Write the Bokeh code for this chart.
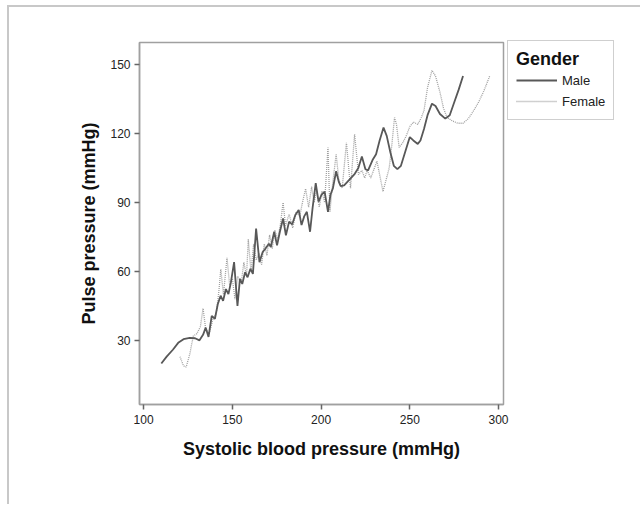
from bokeh.plotting import figure
from bokeh.models import Legend, LegendItem, FixedTicker, ColumnDataSource, Range1d
from bokeh.embed import file_html
from bokeh.resources import INLINE

# Male smoothed curve (systolic BP vs pulse pressure)
male_sbp = [110, 113, 116.5, 119.5, 122.5, 126, 129, 131.5, 133.5, 135, 136.6, 138.4, 140.2,
            141.8, 143.4, 144.8, 146.4, 147.8, 149.2, 151, 152.9, 154.3, 155.6, 157.2, 158.6,
            160.2, 161.6, 163.4, 165.3, 167.1, 168.7, 170.6, 171.7, 173.6, 175.2, 176.8, 178.6,
            180.2, 182, 183.7, 185.5, 187.4, 189, 190.5, 192, 193.8, 195.2, 197, 198.6, 200.3,
            202, 203.9, 205.3, 206.7, 208.5, 210, 211, 213, 216, 219, 221, 223, 225, 226.5,
            229, 231, 233, 235.2, 237, 239, 241, 243, 245, 247, 250, 252, 254.5, 256, 258,
            260, 262.5, 264.5, 267, 270, 272.5, 275, 277.5, 280]
male_pp = [20, 23, 26, 29, 30.6, 31.2, 31, 30.1, 32.5, 35.6, 31.6, 40.7, 39.5,
           45.8, 49.5, 47.3, 52.4, 50.2, 55.3, 64.1, 45.1, 56.8, 54.6, 59.7, 57.5,
           61.2, 59, 78.7, 64.1, 68.5, 70, 72.1, 70.7, 77.3, 71.4, 77.3, 83.1,
           75.8, 81.7, 80.5, 84.6, 86.8, 80.2, 84, 86, 77.3, 87.5, 98.5, 90.4, 93.5,
           94.8, 86, 93.4, 96.3, 103.6, 99, 97.2, 97.5, 100, 102.5, 105, 110, 104.5, 104,
           108.5, 111, 117, 122.6, 119, 112, 106, 104.5, 106, 111, 118.5, 117, 115.5, 117, 122,
           128, 133, 132, 128.5, 126.5, 128, 133.5, 139, 145]

# Female smoothed curve
female_sbp = [120.5, 122.5, 124, 126, 128, 130, 132, 133.5, 135, 137, 139, 141, 142.5, 143.5,
              145, 147, 148.5, 150, 151.5, 153, 155, 156.5, 158, 159, 160.5, 162, 163.5, 165,
              166.5, 168, 169.5, 171, 172.5, 174, 175.5, 177, 178.6, 180, 182, 184, 186, 188,
              189.5, 191.3, 193, 194.7, 196, 197.5, 199, 200.5, 202, 203.9, 205, 206.5, 208.5,
              210, 211.9, 214.3, 216.6, 218.9, 221.1, 223, 224.6, 226, 228, 231.5, 234.9,
              238.4, 240, 241.4, 242.5, 244, 246, 248, 250, 252, 254.5, 256.5, 258, 260, 262.5,
              264.5, 267, 269, 271, 274, 277, 280, 283, 286, 289, 292, 295]
female_pp = [23, 19, 18.5, 24, 32, 33, 36, 44, 35, 33, 39, 42, 52, 61,
             50, 66, 54, 57, 48, 58, 55, 64, 58, 74, 60, 72, 65, 68,
             63, 72, 67, 76, 70, 78, 74, 80, 90, 80, 85, 79, 86, 84,
             90, 96, 88, 97, 90, 95, 88, 95, 90, 113.9, 86, 98, 111,
             100, 96.3, 116, 96.3, 119.7, 102.2, 104, 100.7, 104, 100.7, 108, 94.8,
             105, 116, 127, 124, 114, 116, 119, 123, 125, 124, 127, 130, 140, 147.5,
             145, 138, 131, 127, 125.5, 124.5, 124.5, 126.5, 130, 134, 139, 145]

x_ticks = [100, 150, 200, 250, 300]
y_ticks = [30, 60, 90, 120, 150]

FONT = "Liberation Sans"
FRAME = "#a0a0a0"

p = figure(frame_width=364, frame_height=362, output_backend="svg", toolbar_location=None,
           x_range=Range1d(97.7, 302.8), y_range=Range1d(2.2, 159.6),
           min_border_left=130, min_border_right=128, min_border_top=35, min_border_bottom=100,
           margin=(5, 0, 0, 7),
           styles={"border-left": "2px solid #c8c8c8", "border-top": "2px solid #c8c8c8"})
p.grid.visible = False
p.background_fill_color = "white"
p.border_fill_color = "white"
p.outline_line_color = FRAME
p.outline_line_width = 1.5

src_m = ColumnDataSource(dict(x=male_sbp, y=male_pp))
src_f = ColumnDataSource(dict(x=female_sbp, y=female_pp))
r_f = p.line("x", "y", source=src_f, line_color="#a0a0a0", line_width=1.3, line_dash="1 1")
r_m = p.line("x", "y", source=src_m, line_color="#585858", line_width=1.8)

for ax in (p.xaxis[0], p.yaxis[0]):
    ax.axis_line_color = FRAME
    ax.axis_line_width = 1.5
    ax.major_tick_line_color = "#666666"
    ax.major_tick_line_width = 1.5
    ax.major_tick_out = 5
    ax.major_tick_in = 0
    ax.minor_tick_line_color = None
    ax.major_label_text_font = FONT
    ax.major_label_text_font_size = "12px"
    ax.major_label_text_color = "#222222"
    ax.axis_label_text_font = FONT
    ax.axis_label_text_font_size = "18px"
    ax.axis_label_text_font_style = "bold"
    ax.axis_label_text_color = "#111111"

p.xaxis[0].ticker = FixedTicker(ticks=x_ticks)
p.yaxis[0].ticker = FixedTicker(ticks=y_ticks)
p.xaxis[0].axis_label = "Systolic blood pressure (mmHg)"
p.yaxis[0].axis_label = "Pulse pressure (mmHg)"
p.xaxis[0].major_label_standoff = 5
p.xaxis[0].axis_label_standoff = 12
p.yaxis[0].major_label_standoff = 4
p.yaxis[0].axis_label_standoff = 8

legend = Legend(items=[LegendItem(label="Male", renderers=[r_m]),
                       LegendItem(label="Female", renderers=[r_f])],
                title="Gender", location=(4, 284), padding=8,
                spacing=1, glyph_width=41, glyph_height=20, label_height=20,
                label_standoff=5, title_standoff=0)
legend.title_text_font = FONT
legend.title_text_font_size = "18px"
legend.title_text_font_style = "bold"
legend.title_text_color = "#111111"
legend.label_text_font = FONT
legend.label_text_font_size = "13px"
legend.label_text_color = "#222222"
legend.border_line_color = FRAME
legend.border_line_width = 1.5
legend.background_fill_color = "white"
p.add_layout(legend, "right")

open("out.html", "w").write(file_html(p, INLINE))
